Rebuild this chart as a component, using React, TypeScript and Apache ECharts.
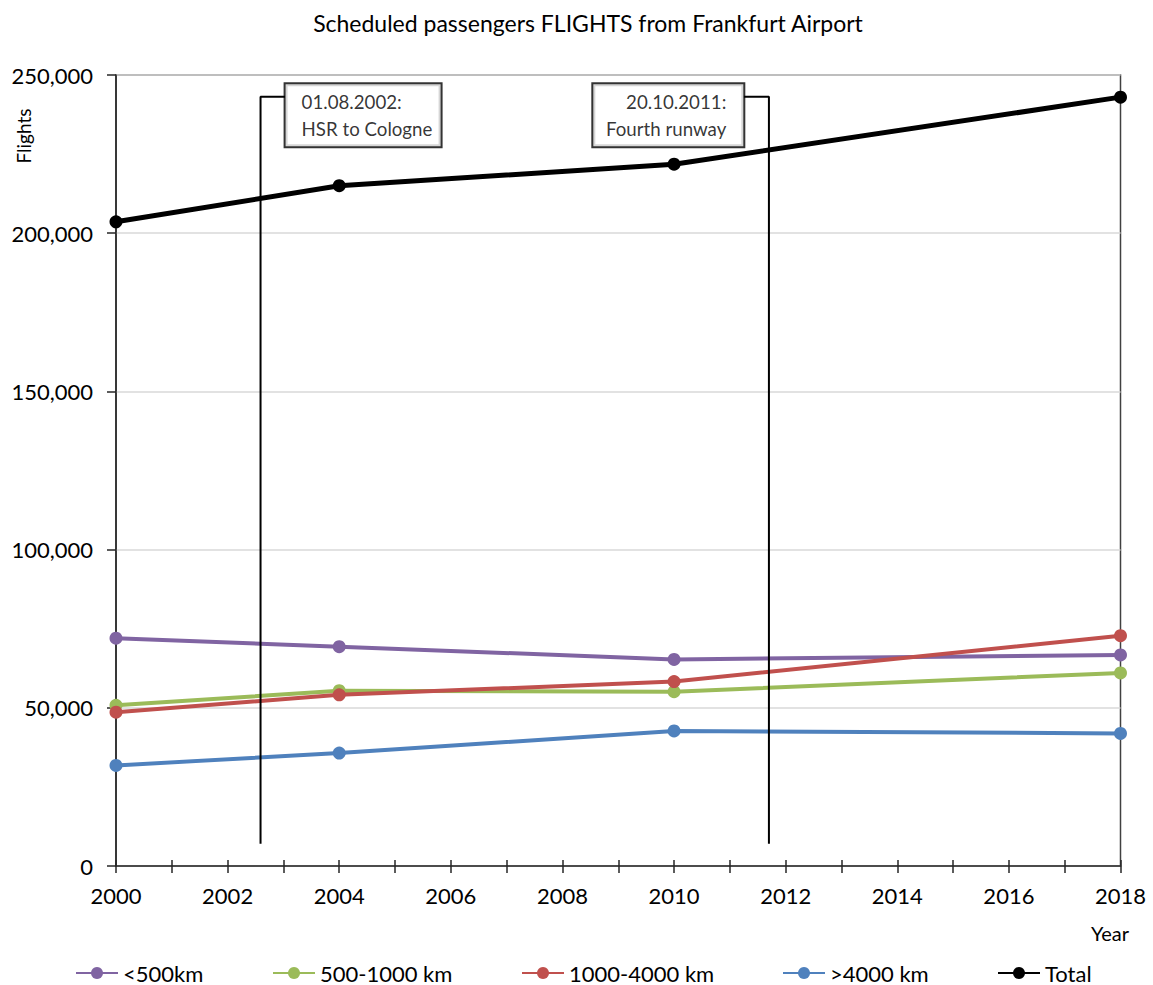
import React, { useEffect, useRef } from 'react';
import * as echarts from 'echarts';

// Scheduled passenger flights from Frankfurt Airport, by distance band
const years = [2000, 2004, 2010, 2018];
const under500 = [72000, 69300, 65300, 66700];
const from500to1000 = [50800, 55400, 55100, 61000];
const from1000to4000 = [48600, 54100, 58300, 72800];
const over4000 = [31800, 35700, 42700, 41900];
const total = [203600, 215000, 221800, 243000];

const seriesNames = ['<500km', '500-1000 km', '1000-4000 km', '>4000 km', 'Total'];
const seriesValues = [under500, from500to1000, from1000to4000, over4000, total];
const seriesColors = ['#8064A2', '#9BBB59', '#C0504D', '#4F81BD', '#000000'];
const seriesWidths = [4, 4, 4, 4, 5];

// Axis ranges
const xMin = 2000;
const xMax = 2018;
const yMax = 250000;
const yStep = 50000;

// Event markers: date (as fractional year), callout text, callout box edge
const eventDates = [2002.59, 2011.7];
const eventLabels = ['01.08.2002:\nHSR to Cologne', '20.10.2011:\nFourth runway'];
const eventBoxEdges = [2003.03, 2011.25];
const leaderBottom = 7000;
const leaderTop = 243100;

const FONT = 'Lato, "Noto Sans", sans-serif';
const legendLefts = [70, 267, 516, 777, 992];

function formatThousands(v: number): string {
  return String(v).replace(/\B(?=(\d{3})+(?!\d))/g, ',');
}

export default function App() {
  const ref = useRef<HTMLDivElement>(null);

  useEffect(() => {
    if (!ref.current) return;
    const chart = echarts.init(ref.current, null, { renderer: 'svg' });

    const dataSeries = seriesNames.map((name, i) => ({
      name,
      type: 'line',
      data: years.map((y, j) => [y, seriesValues[i][j]]),
      symbol: 'circle',
      symbolSize: 13,
      lineStyle: { color: seriesColors[i], width: seriesWidths[i] },
      itemStyle: { color: seriesColors[i] },
      z: 3 + i,
    }));

    const leaderSeries = eventDates.map((d, i) => ({
      name: 'event' + i,
      type: 'line',
      data: [
        [d, leaderBottom],
        [d, leaderTop],
        [eventBoxEdges[i], leaderTop],
      ],
      symbol: 'none',
      silent: true,
      lineStyle: { color: '#000', width: 2 },
      z: 20,
    }));

    const boxSeries = eventDates.map((_, i) => ({
      name: 'eventBox' + i,
      type: 'scatter',
      data: [[eventBoxEdges[i], leaderTop]],
      symbolSize: 1,
      itemStyle: { color: 'rgba(0,0,0,0)' },
      silent: true,
      z: 21,
      label: {
        show: true,
        formatter: eventLabels[i],
        position: i === 0 ? 'right' : 'left',
        distance: 0,
        offset: [0, 18.5],
        align: i === 0 ? 'left' : 'right',
        verticalAlign: 'middle',
        fontFamily: FONT,
        fontSize: 18.7,
        lineHeight: 27,
        color: '#000',
        backgroundColor: '#fff',
        borderColor: '#000',
        borderWidth: 2,
        padding: i === 0 ? [6, 8, 2, 16] : [6, 17, 2, 10],
        width: i === 0 ? 131 : 123,
      },
    }));

    chart.setOption({
      animation: false,
      backgroundColor: '#fff',
      title: {
        text: 'Scheduled passengers FLIGHTS from Frankfurt Airport',
        left: 583,
        top: 6,
        textAlign: 'center',
        textStyle: { fontFamily: FONT, fontSize: 23, fontWeight: 'normal', color: '#000' },
      },
      legend: seriesNames.map((name, i) => ({
        data: [name],
        left: legendLefts[i],
        top: 957,
        itemWidth: 42,
        itemHeight: 15,
        textStyle: { fontFamily: FONT, fontSize: 22, lineHeight: 22, color: '#000' },
        selectedMode: false,
      })),
      grid: {
        left: 116,
        right: 32.5,
        top: 75,
        bottom: 119,
        show: true,
        borderColor: '#404040',
        borderWidth: 1.5,
        backgroundColor: 'transparent',
      },
      xAxis: [
        {
          type: 'value',
          min: xMin,
          max: xMax,
          interval: 1,
          axisLine: { show: true, lineStyle: { color: '#262626', width: 1.5 } },
          axisTick: { show: true, length: 7, lineStyle: { color: '#262626', width: 1.5 } },
          axisLabel: {
            margin: 18,
            fontFamily: FONT,
            fontSize: 22,
            color: '#000',
            formatter: (v: number) => (v % 2 === 0 ? String(v) : ''),
          },
          splitLine: { show: false },
        },
        {
          type: 'value',
          min: xMin,
          max: xMax,
          interval: 1,
          position: 'bottom',
          axisLine: { show: false },
          axisTick: { show: true, inside: true, length: 6, lineStyle: { color: '#262626', width: 1.5 } },
          axisLabel: { show: false },
          splitLine: { show: false },
        },
      ],
      yAxis: {
        type: 'value',
        min: 0,
        max: yMax,
        interval: yStep,
        axisLine: { show: true, lineStyle: { color: '#262626', width: 1.5 } },
        axisTick: { show: true, length: 9, lineStyle: { color: '#262626', width: 1.5 } },
        axisLabel: {
          margin: 23,
          fontFamily: FONT,
          fontSize: 22,
          color: '#000',
          formatter: (v: number) => formatThousands(v),
        },
        splitLine: { show: true, lineStyle: { color: '#D9D9D9', width: 1.5 } },
      },
      graphic: [
        {
          type: 'text',
          x: 23,
          y: 136,
          rotation: Math.PI / 2,
          style: {
            text: 'Flights',
            fontFamily: FONT,
            fontSize: 19,
            fill: '#000',
            align: 'center',
            verticalAlign: 'middle',
          },
        },
        {
          type: 'text',
          x: 1110,
          y: 933,
          style: {
            text: 'Year',
            fontFamily: FONT,
            fontSize: 20,
            fill: '#000',
            align: 'center',
            verticalAlign: 'middle',
          },
        },
      ],
      series: [...dataSeries, ...leaderSeries, ...boxSeries],
    });

    return () => chart.dispose();
  }, []);

  return (
    <div
      ref={ref}
      style={{ position: 'fixed', left: 0, top: 0, width: 1153, height: 985, background: '#fff' }}
    />
  );
}
